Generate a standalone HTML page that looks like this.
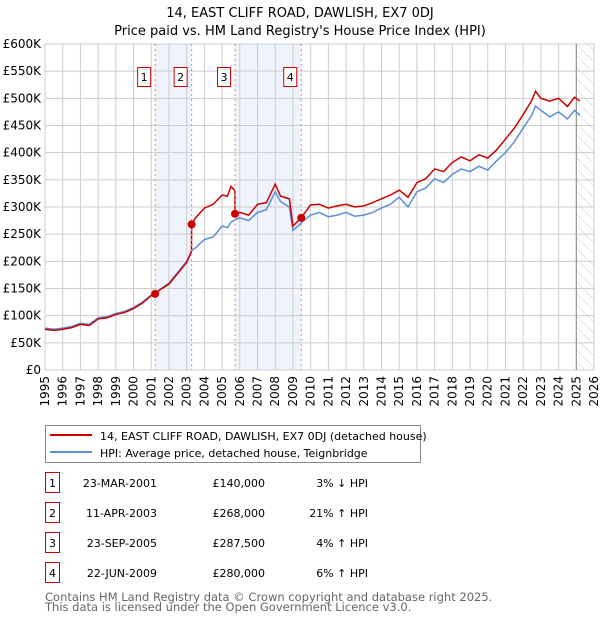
<!DOCTYPE html>
<html><head><meta charset="utf-8"><style>
body{margin:0;background:#fff;font-family:"DejaVu Sans","Liberation Sans",sans-serif;}
svg text{font-family:"DejaVu Sans","Liberation Sans",sans-serif;}
</style></head><body>
<svg id="chart" width="600" height="620" viewBox="0 0 600 620" xmlns="http://www.w3.org/2000/svg">
<defs><pattern id="hatch" width="8" height="8" patternUnits="userSpaceOnUse" patternTransform="rotate(-45)"><line x1="0" y1="0" x2="0" y2="8" stroke="#ccc" stroke-width="1"/></pattern></defs>
<text x="300" y="17" text-anchor="middle" font-size="13">14, EAST CLIFF ROAD, DAWLISH, EX7 0DJ</text>
<text x="300" y="35" text-anchor="middle" font-size="13">Price paid vs. HM Land Registry's House Price Index (HPI)</text>
<g id="bands"></g><g id="grid"></g><g id="axes"></g><g id="series"></g><g id="markers"></g>
<g>
<rect x="45.5" y="425.5" width="375" height="37" fill="#fff" stroke="#888"/>
<line x1="50" y1="435" x2="92" y2="435" stroke="#cc0000" stroke-width="2"/>
<text x="100" y="440" font-size="11">14, EAST CLIFF ROAD, DAWLISH, EX7 0DJ (detached house)</text>
<line x1="50" y1="452" x2="92" y2="452" stroke="#5b8fd4" stroke-width="2"/>
<text x="100" y="457" font-size="11">HPI: Average price, detached house, Teignbridge</text>
</g>
<g id="table"></g>
<text x="45" y="601" font-size="11.5" fill="#666">Contains HM Land Registry data © Crown copyright and database right 2025.</text>
<text x="45" y="611" font-size="11.5" fill="#666">This data is licensed under the Open Government Licence v3.0.</text>
</svg>
<script>
const years=[1995,1996,1997,1998,1999,2000,2001,2002,2003,2004,2005,2006,2007,2008,2009,2010,2011,2012,2013,2014,2015,2016,2017,2018,2019,2020,2021,2022,2023,2024,2025,2026];
const yTicks=[0,50,100,150,200,250,300,350,400,450,500,550,600];
const t=[1995,1995.5,1996,1996.5,1997,1997.5,1998,1998.5,1999,1999.5,2000,2000.5,2001,2001.22,2001.5,2002,2002.5,2003,2003.27,2003.28,2003.5,2004,2004.5,2005,2005.3,2005.5,2005.72,2005.73,2006,2006.5,2007,2007.5,2008,2008.3,2008.8,2009,2009.47,2009.5,2010,2010.5,2011,2011.5,2012,2012.5,2013,2013.5,2014,2014.5,2015,2015.5,2016,2016.5,2017,2017.5,2018,2018.5,2019,2019.5,2020,2020.5,2021,2021.5,2022,2022.5,2022.7,2023,2023.5,2024,2024.5,2024.9,2025.2];
const hpi=[77,75,77,80,86,84,96,98,104,108,115,125,138,142,148,160,180,200,218,220,225,240,245,265,262,272,276,277,280,275,290,295,328,310,300,257,270,272,285,290,282,285,290,283,285,290,298,305,318,300,328,335,352,345,360,370,365,375,368,385,400,420,445,470,486,478,466,475,462,478,469];
const price=[75,73,75,78,84,82,94,96,102,106,113,123,137,140,148,158,178,198,218,268,280,298,305,322,320,338,330,287.5,290,285,305,308,342,320,315,265,280,282,304,305,298,302,305,300,302,308,315,322,331,318,345,352,370,365,382,392,385,396,390,405,425,445,470,497,513,500,495,500,485,502,495];
const saleT=[2001.22,2003.28,2005.73,2009.47];
const saleP=[140,268,287.5,280];
const saleDates=["23-MAR-2001","11-APR-2003","23-SEP-2005","22-JUN-2009"];
const salePrices=["£140,000","£268,000","£287,500","£280,000"];
const saleHpi=["3% ↓ HPI","21% ↑ HPI","4% ↑ HPI","6% ↑ HPI"];
const NS="http://www.w3.org/2000/svg";
const X0=45,X1=594,Y0=370,Y1=44;
const x=v=>X0+(v-1995)/(2026-1995)*(X1-X0);
const y=v=>Y0-v/600*(Y0-Y1);
function mk(tag,attrs,parent){const e=document.createElementNS(NS,tag);for(const k in attrs)e.setAttribute(k,attrs[k]);parent.appendChild(e);return e;}
const bands=document.getElementById('bands');
let b=mk('rect',{x:x(saleT[0]),y:Y1,width:x(saleT[1])-x(saleT[0]),height:Y0-Y1,fill:'#eef3fc'},bands);


b=mk('rect',{x:x(saleT[2]),y:Y1,width:x(saleT[3])-x(saleT[2]),height:Y0-Y1,fill:'#eef3fc'},bands);


b=mk('rect',{x:x(2025.0),y:Y1,width:X1-x(2025.0),height:Y0-Y1,fill:'url(#hatch)'},bands);


const grid=document.getElementById('grid'),axes=document.getElementById('axes');
years.forEach(yr=>{
 mk('line',{x1:x(yr),x2:x(yr),y1:Y1,y2:Y0,stroke:'#ccc','stroke-width':1},grid);
 const tx=mk('text',{x:0,y:0,'font-size':12,'text-anchor':'end',transform:`translate(${x(yr)+4},${Y0+6}) rotate(-90)`},axes);
 tx.textContent=yr;
 
 
});
yTicks.forEach(v=>{
 mk('line',{x1:X0,x2:X1,y1:y(v),y2:y(v),stroke:'#ccc','stroke-width':1},grid);
 const tx=mk('text',{x:X0-4,y:y(v)+4,'font-size':12,'text-anchor':'end'},axes);
 tx.textContent=v===0?'£0':'£'+v+'K';
 
 
});
mk('line',{x1:x(2025.0),x2:x(2025.0),y1:Y1,y2:Y0,stroke:'#888','stroke-width':1},grid);
const ser=document.getElementById('series');
let p=mk('polyline',{points:t.map((v,i)=>x(v)+','+y(hpi[i])).join(' '),fill:'none',stroke:'#5b8fd4','stroke-width':1.5},ser);


p=mk('polyline',{points:t.map((v,i)=>x(v)+','+y(price[i])).join(' '),fill:'none',stroke:'#cc0000','stroke-width':1.5},ser);


const mg=document.getElementById('markers'),tb=document.getElementById('table');
saleT.forEach((s,i)=>{
 mk('line',{x1:x(s),x2:x(s),y1:Y1,y2:Y0,stroke:'#f08080','stroke-dasharray':'2,3','stroke-width':1},mg);
 const c=mk('circle',{cx:x(s),cy:y(saleP[i]),r:4,fill:'#cc0000'},mg);
 
 
 const bx=mk('rect',{x:x(s)-17.5,y:67.5,width:13,height:19,fill:'#fff',stroke:'#cc0000'},mg);
 
 
 const lt=mk('text',{x:x(s)-11,y:81,'font-size':11,'text-anchor':'middle'},mg);
 lt.textContent=i+1;
 const ry=483+i*30;
 const r=mk('rect',{x:45.5,y:ry-10.5,width:14,height:20,fill:'#fff',stroke:'#cc0000'},tb);
 
 
 const n=mk('text',{x:52.5,y:ry+4,'font-size':11,'text-anchor':'middle'},tb);n.textContent=i+1;
 const d=mk('text',{x:157,y:ry+4,'font-size':11,'text-anchor':'end'},tb);d.textContent=saleDates[i];
 
 
 const pr=mk('text',{x:265,y:ry+4,'font-size':11,'text-anchor':'end'},tb);pr.textContent=salePrices[i];
 
 
 const h=mk('text',{x:368,y:ry+4,'font-size':11,'text-anchor':'end'},tb);h.textContent=saleHpi[i];
 
 
});
</script>
</body></html>
